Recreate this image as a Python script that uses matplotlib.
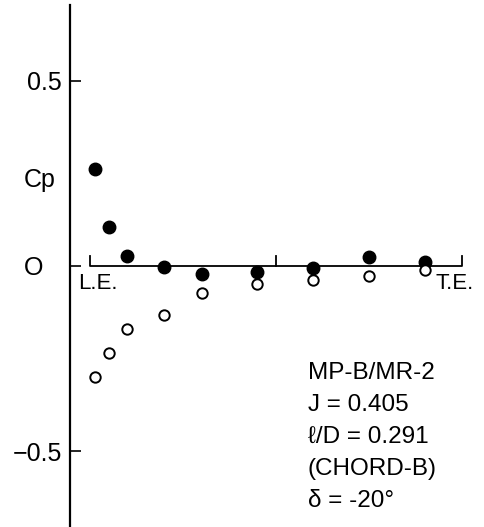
import numpy as np
import matplotlib
matplotlib.use('Agg')
from matplotlib import pyplot as plt

plt.rcParams['font.family'] = ['Liberation Sans', 'DejaVu Sans']

# chordwise position x/c and pressure coefficients
x_c = [0.0125, 0.05, 0.1, 0.2, 0.3, 0.45, 0.6, 0.75, 0.9]
cp_filled = [0.262, 0.105, 0.027, -0.003, -0.022, -0.016, -0.005, 0.024, 0.011]
cp_open = [-0.300, -0.235, -0.170, -0.132, -0.073, -0.049, -0.038, -0.027, -0.011]

y_ticks = [0.5, 0, -0.5]
y_tick_labels = ['0.5', '', '\u22120.5']
info_lines = ['MP-B/MR-2', 'J = 0.405', '\u2113/D = 0.291', '(CHORD-B)', '\u03b4 = -20\u00b0']

fig = plt.figure(figsize=(4.84, 5.27), dpi=100)
ax = fig.add_axes([70 / 484, 0, 414 / 484, 522 / 527])
ax.set_xlim(-20 / 372, 394 / 372)
ax.set_ylim(-0.705, 0.705)

for s in ['top', 'right', 'bottom']:
    ax.spines[s].set_visible(False)
ax.spines['left'].set_linewidth(1.6)
ax.set_xticks([])
ax.set_yticks(y_ticks)
ax.set_yticklabels(y_tick_labels, fontsize=18)
ax.tick_params(axis='y', direction='in', length=8, width=1.2, pad=6)

# zero label sits further left, in line with the "0.5" label
fig.text(24 / 484, 1 - 268 / 527, 'O', fontsize=18, ha='left', va='center')

# chord line with L.E., mid and T.E. marks
h = 0.028
ax.plot([0, 0, 1, 1], [h, 0, 0, h], color='black', lw=1.3)
ax.plot([0.5, 0.5], [0, h], color='black', lw=1.3)

ax.plot(x_c, cp_filled, 'o', color='black', ms=9, zorder=3)
ax.plot(x_c, cp_open, 'o', mfc='white', mec='black', mew=1.4, ms=7.5, zorder=3)

ax.text(-0.033, -0.046, 'L.E.', fontsize=16, ha='left', va='center')
ax.text(1.032, -0.046, 'T.E.', fontsize=16, ha='right', va='center')
fig.text(40 / 484, 1 - 180 / 527, 'Cp', fontsize=18, ha='center', va='center')

for i, line in enumerate(info_lines):
    ax.text(0.586, -0.288 - i * 0.0865, line, fontsize=17.5, ha='left', va='center')

fig.savefig('out.png', dpi=100)
